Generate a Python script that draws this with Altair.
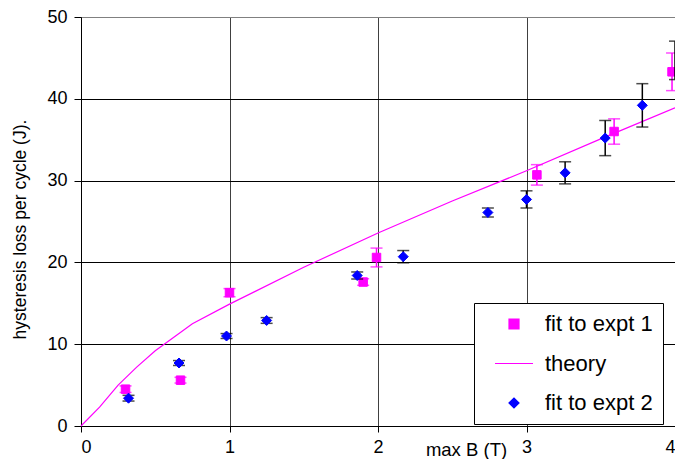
import altair as alt
import pandas as pd

# fit to expt 1 (magenta squares, magenta error bars)
e1_x = [0.30, 0.67, 1.00, 1.90, 1.99, 3.07, 3.59, 3.98]
e1_y = [4.5, 5.6, 16.3, 17.6, 20.6, 30.7, 36.0, 43.3]
e1_err = [0.4, 0.35, 0.5, 0.4, 1.15, 1.25, 1.55, 2.3]

# fit to expt 2 (blue diamonds, black error bars)
e2_x = [0.32, 0.66, 0.98, 1.25, 1.86, 2.17, 2.74, 3.00, 3.26, 3.53, 3.78, 4.00]
e2_y = [3.4, 7.7, 11.0, 12.9, 18.4, 20.7, 26.1, 27.7, 30.95, 35.2, 39.2, 44.7]
e2_err = [0.35, 0.3, 0.3, 0.35, 0.43, 0.75, 0.55, 1.05, 1.35, 2.15, 2.65, 2.35]
e2_marker = [1, 1, 1, 1, 1, 1, 1, 1, 1, 1, 1, 0]

# theory curve
theory_x = [0, 0.125, 0.25, 0.375, 0.5, 0.75, 1.0, 1.5, 2.0, 2.5, 3.0, 3.5, 4.0]
theory_y = [0, 2.3, 5.0, 7.2, 9.2, 12.5, 14.9, 19.4, 23.6, 27.5, 31.2, 35.1, 38.9]

x_ticks = [0, 1, 2, 3, 4]
y_ticks = [0, 10, 20, 30, 40, 50]

series_domain = ["fit to expt 1", "theory", "fit to expt 2"]
fill_range = ["#FF00FF", "#FF00FF", "#0000FF"]
shape_range = ["square", "M-3.8,0H3.8", "diamond"]

e1 = pd.DataFrame({"x": e1_x, "y": e1_y, "err": e1_err, "series": "fit to expt 1", "m": 1})
e2 = pd.DataFrame({"x": e2_x, "y": e2_y, "err": e2_err, "series": "fit to expt 2", "m": e2_marker})
th = pd.DataFrame({"x": theory_x, "y": theory_y})

FONT = "Liberation Sans"

xscale = alt.Scale(domain=[0, 4], nice=False, zero=False)
yscale = alt.Scale(domain=[0, 50], nice=False)

xaxis = alt.Axis(
    values=x_ticks, format="d", title="max B (T)", grid=True,
    gridColor=alt.condition("datum.value == 4", alt.value("#808080"), alt.value("#404040")),
    domainColor="black", tickColor="black", tickSize=6,
    labelFontSize=18, labelPadding=6, labelColor="black", labelFont=FONT,
    titleFontSize=18.5, titleFontWeight="normal", titleFont=FONT, titleColor="black",
    titleX=385, titleY=23, titleBaseline="middle", titleAlign="center",
)
yaxis = alt.Axis(
    values=y_ticks, format="d", title="hysteresis loss per cycle (J).", grid=True,
    gridColor=alt.condition("datum.value == 50", alt.value("#808080"), alt.value("black")),
    domainColor="black", tickColor="black", tickSize=7,
    labelFontSize=18, labelPadding=7, labelColor="black", labelFont=FONT,
    titleFontSize=17.5, titleFontWeight="normal", titleFont=FONT, titleColor="black",
    titleX=-61, titleY=212, titleBaseline="middle", titleAlign="center", titleAngle=-90,
)

legend = alt.Legend(
    title=None, orient="none", legendX=393, legendY=286,
    fillColor="white", strokeColor="black", padding=10,
    symbolSize=100, symbolOffset=19, labelOffset=20, rowPadding=17.5,
    labelFontSize=22, labelFont=FONT, labelColor="black", symbolStrokeWidth=1.2,
)

fill_enc = alt.Fill("series:N", scale=alt.Scale(domain=series_domain, range=fill_range), legend=legend)
stroke_enc = alt.Stroke("series:N", scale=alt.Scale(domain=series_domain, range=fill_range), legend=legend)
shape_enc = alt.Shape("series:N", scale=alt.Scale(domain=series_domain, range=shape_range), legend=legend)


def errbars(df, color):
    base = alt.Chart(df).transform_calculate(lo="datum.y - datum.err", hi="datum.y + datum.err")
    rule = base.mark_rule(color=color, strokeWidth=1.5).encode(
        x=alt.X("x:Q", scale=xscale, axis=xaxis),
        y=alt.Y("lo:Q", scale=yscale, axis=yaxis),
        y2="hi:Q",
    )
    cap_lo = base.mark_tick(color=color, orient="horizontal", size=12, thickness=1.5).encode(
        x="x:Q", y="lo:Q"
    )
    cap_hi = base.mark_tick(color=color, orient="horizontal", size=12, thickness=1.5).encode(
        x="x:Q", y="hi:Q"
    )
    return rule + cap_lo + cap_hi


err1 = errbars(e1, "#FF00FF")
err2 = errbars(e2, "black")

theory = alt.Chart(th).mark_line(color="#FF00FF", strokeWidth=1.2).encode(
    x=alt.X("x:Q", scale=xscale, axis=xaxis),
    y=alt.Y("y:Q", scale=yscale, axis=yaxis),
)

pts1 = alt.Chart(e1).mark_point(size=72, opacity=1, strokeWidth=1).encode(
    x=alt.X("x:Q", scale=xscale, axis=xaxis),
    y=alt.Y("y:Q", scale=yscale, axis=yaxis),
    fill=fill_enc, stroke=stroke_enc, shape=shape_enc,
)
pts2 = alt.Chart(e2).transform_filter("datum.m == 1").mark_point(size=100, opacity=1, strokeWidth=1).encode(
    x=alt.X("x:Q", scale=xscale, axis=xaxis),
    y=alt.Y("y:Q", scale=yscale, axis=yaxis),
    fill=fill_enc, stroke=stroke_enc, shape=shape_enc,
)

chart = alt.layer(err1, theory, pts1, err2, pts2).properties(
    width=594, height=409,
    autosize=alt.AutoSizeParams(type="none"),
    padding={"left": 73, "top": 9, "right": 0, "bottom": 33},
).configure_view(stroke="#808080", strokeWidth=1).configure(font=FONT, background="white")

chart.save("out.html", embed_options={"renderer": "svg", "actions": False})
